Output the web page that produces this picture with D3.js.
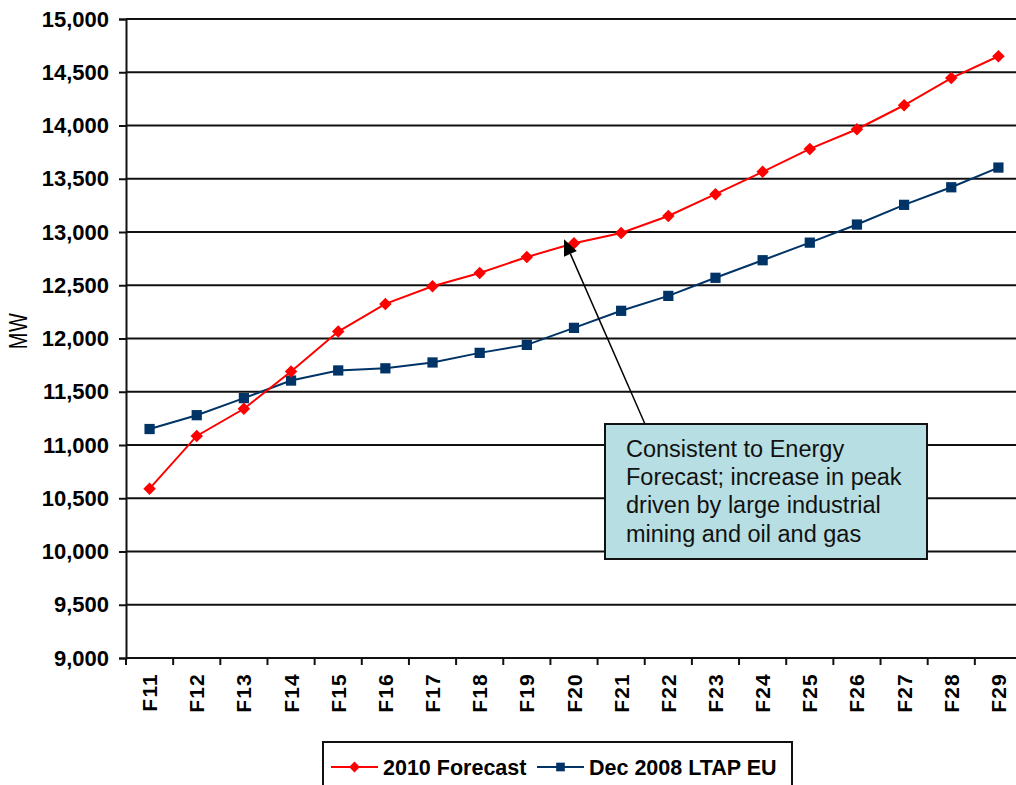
<!DOCTYPE html>
<html>
<head>
<meta charset="utf-8">
<script src="https://cdn.jsdelivr.net/npm/d3@7"></script>
<style>
  html, body { margin: 0; padding: 0; background: #fff; }
  svg { display: block; }
</style>
</head>
<body>
<svg id="chart" width="1016" height="785"></svg>
<script>
// Peak demand outlook, fiscal years F11–F29 (MW)
const years = ["F11","F12","F13","F14","F15","F16","F17","F18","F19","F20",
               "F21","F22","F23","F24","F25","F26","F27","F28","F29"];
const forecast2010 = [10590, 11085, 11340, 11690, 12065, 12325, 12490, 12615, 12765, 12895,
                      12990, 13150, 13355, 13565, 13780, 13965, 14190, 14445, 14650];
const ltap2008 = [11150, 11280, 11440, 11605, 11700, 11720, 11775, 11865, 11940, 12100,
                  12260, 12400, 12570, 12735, 12900, 13070, 13255, 13420, 13605];
const yTicks = [9000, 9500, 10000, 10500, 11000, 11500, 12000, 12500, 13000, 13500, 14000, 14500, 15000];
const seriesNames = ["2010 Forecast", "Dec 2008 LTAP EU"];
const noteLines = ["Consistent to Energy", "Forecast; increase in peak",
                   "driven by large industrial", "mining and oil and gas"];

const svg = d3.select("#chart");
const plot = { left: 126, right: 1022, top: 19, bottom: 658 };

const x = d3.scaleBand().domain(years).range([plot.left, plot.right]).padding(0);
const cx = d => x(d) + x.bandwidth() / 2;
const y = d3.scaleLinear().domain([9000, 15000]).range([plot.bottom, plot.top]);

const font = "Liberation Sans, Arial, sans-serif";
const red = "#ff0000", navy = "#003366";

// horizontal gridlines
svg.append("g")
  .selectAll("line")
  .data(yTicks)
  .join("line")
  .attr("x1", plot.left).attr("x2", plot.right)
  .attr("y1", d => y(d)).attr("y2", d => y(d))
  .attr("stroke", "#111").attr("stroke-width", 2);

// y axis
const yAxis = svg.append("g")
  .attr("transform", `translate(${plot.left},0)`)
  .call(d3.axisLeft(y).tickValues(yTicks).tickFormat(d3.format(",")).tickSize(7).tickPadding(10));
yAxis.select(".domain").attr("stroke", "#111").attr("stroke-width", 2);
yAxis.selectAll(".tick line").attr("stroke", "#111").attr("stroke-width", 2);
yAxis.selectAll(".tick text")
  .attr("font-family", font).attr("font-size", 22).attr("font-weight", "bold").attr("fill", "#000");

// x axis: ticks on category boundaries, labels rotated at centres
const xAxis = svg.append("g").attr("transform", `translate(0,${plot.bottom})`);
xAxis.append("line")
  .attr("x1", plot.left).attr("x2", plot.right)
  .attr("stroke", "#111").attr("stroke-width", 2);
xAxis.selectAll("line.tk")
  .data(years.map(d => x(d)).concat([plot.right]))
  .join("line").attr("class", "tk")
  .attr("x1", d => d).attr("x2", d => d)
  .attr("y1", 0).attr("y2", 7)
  .attr("stroke", "#111").attr("stroke-width", 2);
xAxis.selectAll("text")
  .data(years)
  .join("text")
  .attr("transform", d => `translate(${cx(d) + 7.5},15) rotate(-90)`)
  .attr("text-anchor", "end")
  .attr("font-family", font).attr("font-size", 21).attr("font-weight", "bold")
  .attr("letter-spacing", 1.2)
  .text(d => d);

// y axis title
svg.append("text")
  .attr("transform", `translate(27,331) rotate(-90) scale(1,1.3)`)
  .attr("text-anchor", "middle")
  .attr("font-family", font).attr("font-size", 20)
  .attr("letter-spacing", 0.5)
  .text("MW");

// series
const line = d3.line().x((d, i) => cx(years[i])).y(d => y(d));
const diamond = d3.symbol().type(d3.symbolDiamond2).size(100);
const square = d3.symbol().type(d3.symbolSquare).size(105);

svg.append("path").datum(ltap2008)
  .attr("d", line).attr("fill", "none").attr("stroke", navy).attr("stroke-width", 2);
svg.append("g").selectAll("path")
  .data(ltap2008).join("path")
  .attr("transform", (d, i) => `translate(${cx(years[i])},${y(d)})`)
  .attr("d", square).attr("fill", navy);

svg.append("path").datum(forecast2010)
  .attr("d", line).attr("fill", "none").attr("stroke", red).attr("stroke-width", 2);
svg.append("g").selectAll("path")
  .data(forecast2010).join("path")
  .attr("transform", (d, i) => `translate(${cx(years[i])},${y(d)})`)
  .attr("d", diamond).attr("fill", red);

// callout pointing at the F20 forecast point
const box = { x: 605, y: 424, w: 322, h: 135 };
const tip = { x: cx("F20") - 10, y: y(forecast2010[9]) - 4 };
const tail = { x: 645, y: box.y };
const ang = Math.atan2(tip.y - tail.y, tip.x - tail.x);
const headLen = 16, headHalf = 7;
const bx = tip.x - headLen * Math.cos(ang), by = tip.y - headLen * Math.sin(ang);
svg.append("line")
  .attr("x1", tail.x).attr("y1", tail.y).attr("x2", bx).attr("y2", by)
  .attr("stroke", "#000").attr("stroke-width", 1.5);
svg.append("path")
  .attr("d", `M${tip.x},${tip.y}L${bx + headHalf * Math.sin(ang)},${by - headHalf * Math.cos(ang)}L${bx - headHalf * Math.sin(ang)},${by + headHalf * Math.cos(ang)}Z`)
  .attr("fill", "#000");

svg.append("rect")
  .attr("x", box.x).attr("y", box.y).attr("width", box.w).attr("height", box.h)
  .attr("fill", "#b7dee2").attr("stroke", "#111").attr("stroke-width", 2);
svg.append("text")
  .attr("font-family", font).attr("font-size", 23.5).attr("fill", "#111")
  .selectAll("tspan")
  .data(noteLines).join("tspan")
  .attr("x", box.x + 21)
  .attr("y", (d, i) => box.y + 33 + i * 28.2)
  .text(d => d);

// legend
const lg = svg.append("g");
lg.append("rect")
  .attr("x", 323).attr("y", 742).attr("width", 469).attr("height", 60)
  .attr("fill", "#fff").attr("stroke", "#111").attr("stroke-width", 2);
const legendItems = [
  { name: seriesNames[0], color: red, sym: d3.symbol().type(d3.symbolDiamond2).size(75), x0: 331 },
  { name: seriesNames[1], color: navy, sym: d3.symbol().type(d3.symbolSquare).size(75), x0: 537 }
];
const li = lg.selectAll("g.item").data(legendItems).join("g").attr("class", "item")
  .attr("transform", d => `translate(${d.x0},767)`);
li.append("line").attr("x1", 0).attr("x2", 47)
  .attr("stroke", d => d.color).attr("stroke-width", 2);
li.append("path").attr("transform", "translate(23.5,0)")
  .attr("d", d => d.sym())
  .attr("fill", d => d.color);
li.append("text")
  .attr("x", 52).attr("y", 7.5)
  .attr("font-family", font).attr("font-size", 21.5).attr("font-weight", "bold")
  .text(d => d.name);
</script>
</body>
</html>
